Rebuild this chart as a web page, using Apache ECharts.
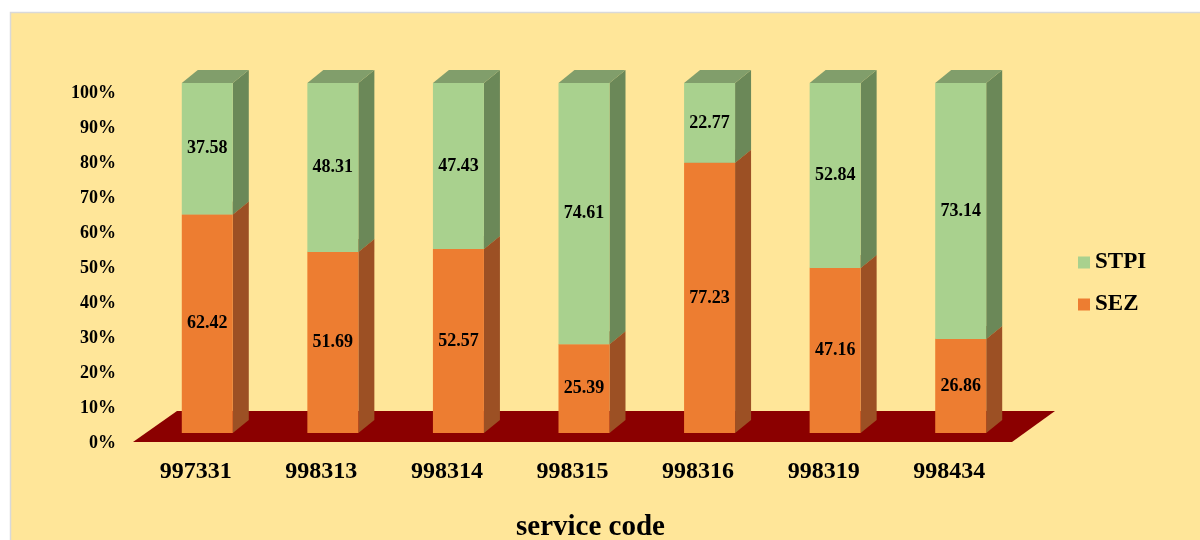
<!DOCTYPE html>
<html>
<head>
<meta charset="utf-8">
<script src="https://cdn.jsdelivr.net/npm/echarts@6/dist/echarts.min.js"></script>
<style>
  html, body { margin: 0; padding: 0; background: #fff; }
  #main { width: 1200px; height: 540px; }
</style>
</head>
<body>
<div id="main"></div>
<script>
// data
const codes = ["997331", "998313", "998314", "998315", "998316", "998319", "998434"]
const sez = [62.42, 51.69, 52.57, 25.39, 77.23, 47.16, 26.86]
const stpi = [37.58, 48.31, 47.43, 74.61, 22.77, 52.84, 73.14]

const FONT = '"Liberation Serif", "Times New Roman", serif'

// 3d look: bar sits a bit behind the front plane
const SHIFT_X = 11.5, SHIFT_Y = -10
const DEPTH_X = 16, DEPTH_Y = -13
const BAR_W = 51

function shade(front, side, top) {
    return function (params, api) {
        let cat = api.value(0)
        let p0 = api.coord([cat, api.value(1)])
        let p1 = api.coord([cat, api.value(2)])
        let x0 = p0[0] + SHIFT_X - BAR_W / 2
        let x1 = x0 + BAR_W
        let yb = p0[1] + SHIFT_Y
        let yt = p1[1] + SHIFT_Y
        return {
            type: 'group',
            children: [
                {
                    type: 'polygon',
                    shape: { points: [[x1, yb], [x1 + DEPTH_X, yb + DEPTH_Y], [x1 + DEPTH_X, yt + DEPTH_Y], [x1, yt]] },
                    style: { fill: side }
                },
                {
                    type: 'polygon',
                    shape: { points: [[x0, yt], [x1, yt], [x1 + DEPTH_X, yt + DEPTH_Y], [x0 + DEPTH_X, yt + DEPTH_Y]] },
                    style: { fill: top }
                },
                {
                    type: 'rect',
                    shape: { x: x0, y: yt, width: BAR_W, height: yb - yt },
                    style: { fill: front }
                },
                {
                    type: 'text',
                    style: {
                        x: (x0 + x1) / 2, y: (yb + yt) / 2,
                        text: (api.value(2) - api.value(1)).toFixed(2),
                        align: 'center', verticalAlign: 'middle',
                        font: 'bold 18px ' + FONT, fill: '#000'
                    }
                }
            ]
        }
    }
}

function floor(params, api) {
    let cs = params.coordSys
    let y = api.coord([0, 0])[1]
    return {
        type: 'polygon',
        shape: {
            points: [[cs.x, y - 1], [cs.x + cs.width, y - 1], [cs.x + cs.width + 43, y - 32], [cs.x + 44, y - 32]]
        },
        style: { fill: '#8B0000' }
    }
}

var myChart = echarts.init(document.getElementById('main'))

var option = {
    backgroundColor: '#fff',
    animation: false,
    graphic: [{
        type: 'rect',
        z: -10,
        shape: { x: 10.5, y: 12.5, width: 1200, height: 540 },
        style: { fill: '#FFE699', stroke: '#D9D9D9', lineWidth: 1.5 }
    }],
    grid: { left: 133, right: 188, top: 93, bottom: 97, containLabel: false, outerBoundsMode: 'none' },
    legend: {
        orient: 'vertical',
        left: 1073, top: 246,
        itemWidth: 12, itemHeight: 12, itemGap: 19,
        icon: 'rect',
        data: ['STPI', 'SEZ'],
        textStyle: { fontFamily: FONT, fontWeight: 'bold', fontSize: 23, color: '#000' }
    },
    xAxis: {
        type: 'category',
        data: codes,
        name: 'service code',
        nameLocation: 'middle',
        nameGap: 70,
        nameTextStyle: { fontFamily: FONT, fontWeight: 'bold', fontSize: 29, color: '#000', padding: [0, 0, 0, 36] },
        axisLine: { show: false },
        axisTick: { show: false },
        axisLabel: { margin: 17, fontFamily: FONT, fontWeight: 'bold', fontSize: 24, color: '#000' }
    },
    yAxis: {
        type: 'value',
        min: 0, max: 100, interval: 10,
        splitLine: { show: false },
        axisLine: { show: false },
        axisTick: { show: false },
        axisLabel: { formatter: '{value}%', margin: 17, fontFamily: FONT, fontWeight: 'bold', fontSize: 18, color: '#000' }
    },
    series: [
        {
            type: 'custom',
            name: 'floor',
            silent: true,
            z: 1,
            renderItem: floor,
            data: [[0, 0]]
        },
        {
            type: 'custom',
            name: 'SEZ',
            z: 2,
            itemStyle: { color: '#ED7D31' },
            encode: { x: 0, y: [1, 2] },
            renderItem: shade('#ED7D31', '#9C5024', '#B5612A'),
            data: sez.map((v, i) => [i, 0, v])
        },
        {
            type: 'custom',
            name: 'STPI',
            z: 3,
            itemStyle: { color: '#A9D18E' },
            encode: { x: 0, y: [1, 2] },
            renderItem: shade('#A9D18E', '#6B8858', '#819E6B'),
            data: stpi.map((v, i) => [i, sez[i], sez[i] + v])
        }
    ]
}

myChart.setOption(option)
</script>
</body>
</html>
